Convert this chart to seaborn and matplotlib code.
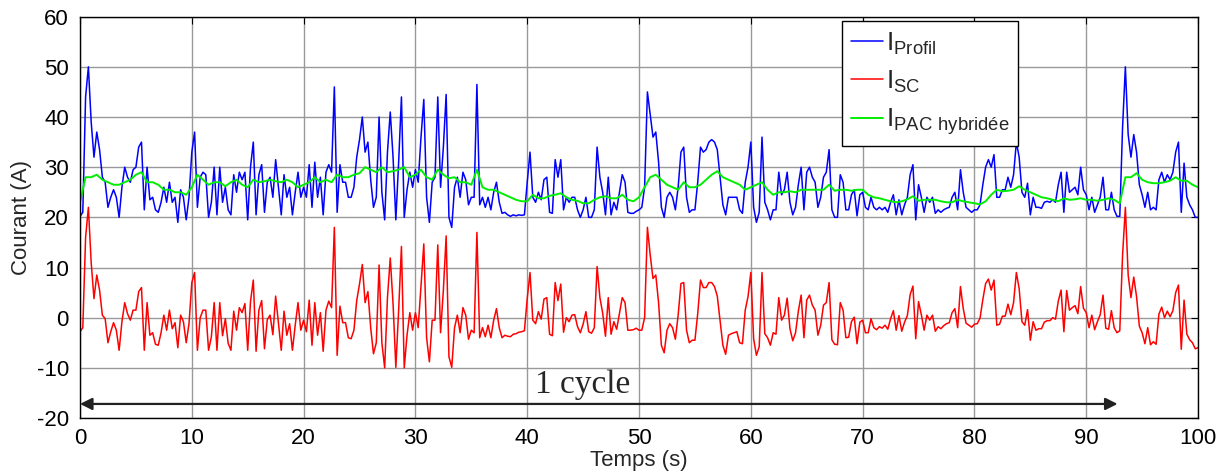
import numpy as np
import pandas as pd
import matplotlib
matplotlib.use("Agg")
import matplotlib.pyplot as plt
import seaborn as sns

# I_Profil, sampled every 0.25 s from 0 to 100 s
i_profil = [
    20.2, 21, 44, 50, 39, 32, 37, 33.5, 28, 27, 22, 24, 25.5, 24, 20, 26, 30, 28, 27, 29.5,
    30, 34, 35, 21.5, 30, 23.5, 24, 21.5, 21, 23, 26, 23, 27, 23, 24, 19, 25.5, 24, 19.5, 24,
    33, 37, 22, 28, 29, 28.5, 20, 23, 30, 20.5, 30, 23, 26, 21.5, 20.5, 28.5, 25, 29, 27.5, 29,
    19.5, 30, 35, 20.5, 28.5, 30.5, 21, 27, 28, 24, 31.5, 26, 20.5, 28.5, 24, 26, 20.5, 25, 29, 24,
    26, 24, 30.5, 22, 31, 24, 28, 20.5, 29, 30.5, 29, 46, 21, 30.5, 27, 27, 24, 24, 26, 32,
    35.5, 40, 33, 35, 27.5, 22, 24, 40, 25, 19.5, 33, 41, 32, 19.5, 31, 44, 20, 25.5, 29, 26,
    29.5, 27, 36, 43.5, 24, 19, 27, 28, 44, 26, 34, 44.5, 20, 18, 26, 28, 24, 29, 27.5, 22.5,
    24, 24, 46.5, 22.5, 24, 22, 24, 21.5, 25, 27, 23, 20.8, 21, 20.5, 20.2, 20.5, 20.3, 20.5, 20.4, 20.5,
    27, 33, 24, 23, 25, 23.5, 27.5, 28, 21, 20.8, 31.5, 28, 31.5, 21.5, 24, 23, 24, 24, 21.5, 20,
    21.5, 24, 20, 20, 21.5, 34, 28, 25, 20.5, 28, 20.5, 23, 21.5, 25, 28.5, 27, 21, 20.8, 20.8, 21.2,
    21.5, 22, 26, 45, 40.5, 36, 37, 31, 22, 20, 24, 25, 24, 21.5, 26, 33, 34, 24, 21, 21.5,
    21.5, 27, 34, 33, 33.5, 35, 35.5, 35, 33.5, 28, 22.5, 20.5, 24, 24, 24, 24, 21.5, 20.8, 27, 30,
    35, 22, 19, 21, 36, 23, 21.5, 19.5, 21.5, 21.5, 29, 24.5, 25.5, 29, 23, 20.5, 22, 26.5, 30, 21.5,
    29, 30, 28, 27, 22, 24, 28, 29, 33.5, 21.5, 20, 20, 28.5, 27, 21.5, 21.5, 24.5, 25.5, 20.3, 24.5,
    25, 22, 21.5, 24, 22, 21.5, 22, 21.5, 22, 21, 23, 24.5, 20.5, 23.5, 20.5, 22.5, 24, 28.5, 30.5, 19.5,
    26.5, 24, 21, 24, 23, 24, 20.8, 21.5, 21, 21.5, 21.8, 22, 24, 25, 21.5, 29.5, 25, 22, 21.5, 21,
    21.5, 21.5, 22.5, 26.5, 30, 31.5, 30, 32.5, 24, 24, 25.5, 25.5, 28, 26, 28.5, 35, 32, 25, 24, 26.8,
    20.5, 24, 22, 22, 21.8, 23, 23.2, 23, 23.5, 23, 26.5, 29, 21, 29, 25, 25.5, 26, 24.5, 30, 25.5,
    24.5, 21.5, 24, 21, 22.5, 24, 28, 21.5, 21.5, 25, 21.5, 20.2, 20.2, 38, 50, 36.5, 32, 36.5, 33, 26.5,
    24.5, 22, 25, 21.5, 22, 21.5, 27.5, 29, 27, 28.5, 27.5, 29, 33, 35, 21, 30.8, 24, 22.5, 21.5, 20, 20,
]

# I_SC, sampled every 0.25 s from 0 to 100 s
i_sc = [
    -2.8, -2, 16, 22, 11, 3.8, 8.5, 5.5, 0.5, -0.2, -5, -2.8, -1, -2.5, -6.5, -0.8, 3, 0.8, -0.5, 1.5,
    1.5, 5.2, 6, -6.5, 3, -3.5, -3, -5.3, -5.5, -3, 0.5, -2.5, 1.5, -2.2, -1, -6, 0.5, -0.8, -5, -1.2,
    7, 9, -6.5, 0, 1.5, 1.5, -6.5, -3.8, 3, -6.5, 3, -3.6, -0.2, -5.1, -6.5, 1.3, -2.5, 2, 1, 2.8,
    -6.5, 3.2, 7.5, -6.7, 1.5, 3.4, -6.2, -0.4, 0.5, -3.4, 4.3, -1.1, -6.5, 1.3, -3.5, -1.2, -6.5, -1.5, 3, -2.5,
    -0.5, -2.8, 3.5, -5.5, 3, -3.5, 1, -6.7, 1.5, 3.3, 2, 18, -7.5, 2.3, -1, -1, -4, -4.2, -2.5, 3.4,
    6.7, 10.6, 3, 5.2, -2, -7.2, -5, 10.5, -5, -10, 4, 11.9, 2.8, -9.9, 1.5, 14.2, -10, -3.5, 1, -2.5,
    1, -2, 6.5, 14.7, -4, -8.8, -0.5, -0.5, 14.5, -3, 5.5, 16.3, -7.8, -9.9, -2, 0.5, -3, 2, 0.5, -4.3,
    -2.5, -3, 17, -4, -2, -3.8, -1.5, -4, -0.5, 1.8, -2, -4, -3.5, -3.7, -3.8, -3.3, -3.2, -2.9, -2.8, -2.6,
    3.8, 9, -0.5, -1.2, 1.2, -0.3, 3.7, 4, -3.3, -3.6, 7, 3.4, 6.7, -2.9, 0, -0.8, 0.5, 0.6, -1.8, -3,
    -1.3, 1.2, -2.8, -3.1, -2, 10.2, 4, 0.9, -3.7, 4, -3.3, -0.8, -2.3, 0.9, 4, 3, -2.5, -2.5, -2.4, -2.1,
    -2.5, -2.5, 0, 18, 12.5, 7.8, 8.5, 3, -5.5, -7, -2.5, -1.2, -2, -4.3, 0.5, 6.8, 7, -2.5, -5, -4.5,
    -4.5, 0.8, 7.5, 6, 6, 7, 7, 6.2, 4.3, -0.6, -5.5, -7.3, -3.5, -3.2, -3, -2.8, -5, -5.2, 1.5, 4.2,
    9, -4.2, -7.5, -5.8, 9, -3.2, -4, -5.5, -3, -3.3, 4, -0.5, 0.5, 3.9, -2.2, -4.6, -3, 1.3, 4.5, -4,
    3.5, 4.5, 2.5, 1.5, -3.5, -1.5, 2.5, 3, 7, -4.4, -5.3, -5.4, 3, 1.5, -4, -3.9, -0.8, 0.1, -5.2, -0.9,
    -0.5, -3, -3, -0.2, -2, -2.4, -1.8, -2.1, -1.5, -2.3, -0.2, 1.4, -2.5, 0.4, -2.7, -0.9, 0.4, 4.6, 6.3, -4.2,
    3.2, 0.6, -2.5, 0.5, -0.5, 0.5, -2.7, -1.8, -2.2, -1.6, -1.2, -1, 1, 1.8, -2, 6.2, 1.8, -1.1, -1.5, -1.9,
    -1.3, -1.2, -0.1, 3.6, 6.8, 7.7, 5.5, 7.5, -1.5, -1.3, 0.3, 0.3, 2.7, 0.6, 3, 9, 5.8, -0.8, -1.5, 1.6,
    -4.5, -0.8, -2.5, -2.2, -2.2, -0.9, -0.6, -0.6, 0, -0.3, 3.3, 5.5, -2.8, 5.4, 1.5, 2, 2.4, 0.8, 6.2, 1.9,
    1, -2, 0.5, -2.4, -0.8, 0.6, 4.5, -2.1, -2.3, 1.4, -2, -3, -2.6, 12.5, 22, 8.5, 4, 8.1, 4.2, -1.7,
    -3, -5.2, -2, -5.4, -4.8, -5.3, 0.7, 2.1, 0, 1.3, 0.2, 1.4, 5, 6.5, -6.3, 3.5, -3.3, -4.4, -5, -6.2, -6,
]

# I_PAC hybridee, sampled every 0.5 s from 0 to 100 s
i_pac = [
    23, 28, 28, 28.5, 27.5, 27, 26.5, 26.5, 27, 27.5, 28.5, 29, 27, 27, 26.5, 25.5, 25.5, 25, 25, 24.5,
    26, 28.5, 27.5, 26.5, 27, 27, 26.2, 27, 27.5, 26.5, 26, 27.5, 27, 27.2, 27.5, 27.2, 27, 27.5, 27, 26,
    26.5, 27, 28, 27, 27.5, 27, 28.5, 28, 28, 28.5, 28.8, 30, 29.5, 29, 30, 29, 29.2, 29.5, 30, 28,
    28.5, 29.5, 28, 27.5, 29.5, 28.5, 27.8, 28, 27, 27, 26.5, 29.5, 26, 25.5, 25.5, 25, 24.5, 24, 23.5, 23.2,
    23.2, 24.5, 23.8, 23.8, 24.3, 24.5, 24.8, 24, 23.5, 23.3, 22.8, 22.8, 23.5, 24, 24.2, 23.8, 23.8, 24.5, 23.5, 23.2,
    24, 26, 28, 28.5, 27.5, 26.5, 26, 25.5, 27, 26, 26, 26.5, 27.5, 28.5, 29.2, 28, 27.5, 27, 26.5, 25.5,
    26, 26.5, 27, 25.5, 24.5, 25, 25, 25.2, 25, 25.5, 25.5, 25.5, 25.5, 25.5, 26.5, 25.3, 25.5, 25.5, 25.3, 25.5,
    25.5, 24.5, 24, 23.8, 23.5, 23.2, 23, 23.2, 23.6, 24.2, 23.3, 23.5, 23.5, 23.5, 23.2, 23, 23, 23.5, 23.2, 23,
    22.8, 22.6, 23.2, 24.5, 25.5, 25.2, 25.3, 25.5, 26.2, 25.5, 25, 24.5, 24, 23.8, 23.5, 23.2, 23.8, 23.5, 23.6, 23.8,
    23.5, 23.5, 23.3, 23.5, 23.8, 23.5, 22.8, 28, 28, 28.8, 27.5, 27, 26.8, 26.8, 27, 27.3, 28, 27.3, 27.3, 26.5, 26,
]

labels = ["I$_{\\mathregular{Profil}}$", "I$_{\\mathregular{SC}}$",
          "I$_{\\mathregular{PAC\\ hybridée}}$"]
cycle_end = 92.8

t_fast = np.arange(len(i_profil)) * 0.25
t_slow = np.arange(len(i_pac)) * 0.5
df_fast = pd.DataFrame({"t": t_fast, "profil": i_profil, "sc": i_sc})
df_slow = pd.DataFrame({"t": t_slow, "pac": i_pac})

sns.set_theme(style="white")
plt.rcParams["font.family"] = ["Liberation Sans", "DejaVu Sans"]
plt.rcParams["mathtext.default"] = "regular"
plt.rcParams["axes.unicode_minus"] = False

fig = plt.figure(figsize=(12.27, 4.73), dpi=100)
ax = fig.add_axes([0.0652, 0.1163, 0.9112, 0.8484])

sns.lineplot(data=df_fast, x="t", y="profil", color="#0000ff", lw=1.1, label=labels[0], ax=ax)
sns.lineplot(data=df_fast, x="t", y="sc", color="#ff0000", lw=1.1, label=labels[1], ax=ax)
sns.lineplot(data=df_slow, x="t", y="pac", color="#00ee00", lw=1.4, label=labels[2], ax=ax)

ax.set_xlim(0, 100)
ax.set_ylim(-20, 60)
ax.set_xticks(np.arange(0, 101, 10))
ax.set_yticks(np.arange(-20, 61, 10))
ax.grid(True, color="0.6", lw=1.0)
ax.set_axisbelow(True)
ax.tick_params(direction="in", top=True, right=True, length=5, width=0.8,
               labelsize=16, colors="black")
ax.tick_params(axis="x", pad=7)
ax.tick_params(axis="y", pad=8)
for s in ax.spines.values():
    s.set_color("black")
    s.set_linewidth(1.0)
ax.set_xlabel("Temps (s)", fontsize=16, labelpad=1)
ax.set_ylabel("Courant (A)", fontsize=16, labelpad=3)

# cycle arrow and text
ax.annotate("", xy=(0, -17.2), xytext=(cycle_end, -17.2),
            arrowprops=dict(arrowstyle="<|-|>", color="#222222", lw=1.6,
                            mutation_scale=18, shrinkA=0, shrinkB=0))
ax.text(45, -15, "1 cycle", fontsize=24, family="Liberation Serif",
        ha="center", va="baseline")

leg = ax.legend(loc="upper left", bbox_to_anchor=(0.6816, 0.989), borderaxespad=0,
                fontsize=19, frameon=True, fancybox=False, framealpha=1,
                edgecolor="black", handlelength=1.2, handletextpad=0.1,
                labelspacing=0.45, borderpad=0.35)
leg.get_frame().set_linewidth(1.0)

fig.savefig("out.png", dpi=100)
